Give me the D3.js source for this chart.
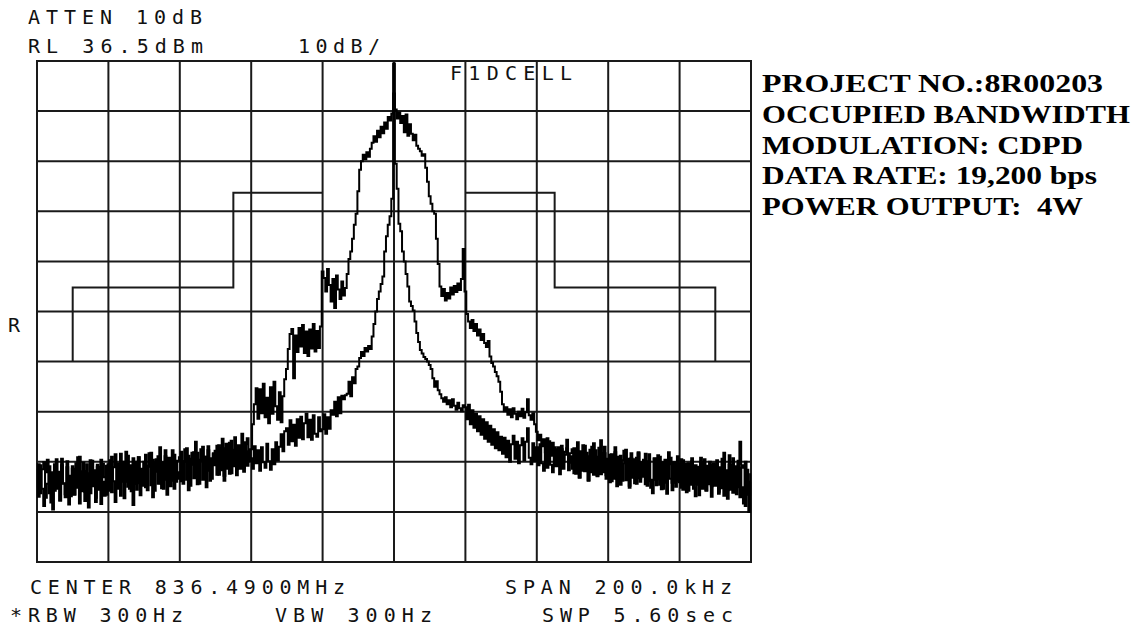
<!DOCTYPE html>
<html>
<head>
<meta charset="utf-8">
<script src="https://cdn.jsdelivr.net/npm/d3@7"></script>
<style>
  body { margin: 0; background: #fff; }
  svg { display: block; }
  .mono { font-family: "DejaVu Sans Mono", monospace; font-size: 20px; fill: #111; }
  .note { font-family: "Liberation Serif", "Times New Roman", serif; font-weight: bold; font-size: 26px; fill: #000; white-space: pre; }
</style>
</head>
<body>
<div id="chart"></div>
<script>
// sweep settings, offsets in kHz from the centre frequency
const traceStartKHz = -100;
const traceStepKHz = 0.5;

// modulated trace (dBm), one value per 0.5 kHz, 20 values = 10 kHz per row
const wideTrace = [
  -45.0,-50.5,-44.2,-48.9,-52.3,-45.6,-43.1,-49.8,-46.4,-53.0,-44.0,-48.7,-45.5,-51.2,-42.9,-47.9,-50.6,-44.6,-52.0,-46.3,
  -44.4,-50.0,-47.1,-42.6,-51.8,-46.9,-43.7,-49.5,-45.8,-52.6,-43.2,-48.4,-45.2,-50.7,-44.1,-47.6,-51.9,-43.9,-46.6,-50.1,
  -44.0,-49.3,-42.5,-47.4,-51.5,-43.8,-48.6,-41.9,-46.9,-50.8,-44.7,-42.3,-48.9,-45.6,-52.1,-43.5,-47.8,-42.6,-50.2,-44.9,
  -46.8,-42.1,-49.2,-44.5,-41.7,-50.6,-45.5,-43.0,-47.9,-40.6,-48.8,-44.7,-42.4,-50.1,-43.9,-47.3,-41.2,-48.9,-43.6,-46.9,
  -45.6,-41.5,-47.9,-43.4,-40.8,-49.2,-44.1,-41.7,-46.8,-39.5,-48.0,-43.2,-41.0,-47.1,-42.5,-48.6,-40.4,-45.3,-46.9,-41.8,
  -44.2,-40.3,-46.1,-42.0,-38.9,-47.3,-41.6,-44.9,-39.7,-45.8,-41.4,-38.6,-45.0,-40.2,-43.6,-37.9,-44.8,-40.0,-38.8,-43.4,
  -41.0,-36.0,-32.0,-28.8,-34.9,-29.0,-33.8,-27.9,-34.6,-30.7,-35.8,-28.6,-33.9,-27.5,-32.4,-35.1,-29.6,-35.6,-30.4,-27.0,
  -25.0,-21.0,-18.0,-17.0,-26.8,-18.3,-21.6,-16.8,-20.5,-16.2,-21.8,-17.5,-22.4,-17.1,-20.9,-16.0,-21.5,-17.4,-20.8,-16.5,
  -5.5,-6.8,-9.5,-5.0,-8.2,-11.5,-7.0,-12.8,-6.3,-9.1,-11.0,-7.5,-10.3,-8.8,-6.0,-3.0,-1.5,1.0,3.8,6.0,
  10.5,14.8,16.5,17.8,16.9,18.3,17.4,19.0,20.2,21.5,20.4,22.6,21.3,23.4,22.1,24.2,23.0,25.3,24.6,26.0,
  30.0,26.8,25.0,26.2,24.1,25.5,22.3,25.8,21.6,23.9,22.0,20.7,21.8,19.6,19.0,18.5,17.6,17.9,15.2,12.4,
  9.5,8.0,6.5,6.0,1.0,-4.0,-8.5,-10.4,-9.0,-11.3,-9.8,-10.9,-8.7,-10.1,-8.4,-9.6,-7.9,-9.2,-7.0,-1.0,
  -9.5,-14.0,-15.5,-16.8,-15.2,-17.4,-16.0,-18.3,-17.1,-19.2,-18.0,-19.8,-20.6,-19.4,-22.5,-23.8,-24.5,-25.6,-26.4,-27.5,
  -29.5,-32.0,-33.4,-32.6,-34.1,-33.0,-34.6,-32.8,-33.9,-35.0,-33.5,-34.4,-32.9,-34.7,-33.6,-31.0,-34.2,-35.1,-33.8,-36.0,
  -37.5,-39.2,-38.1,-40.4,-39.0,-41.6,-38.8,-40.9,-42.3,-39.7,-41.5,-43.0,-40.6,-42.2,-41.0,-43.5,-42.1,-40.8,-43.7,-42.4,
  -44.9,-40.8,-45.9,-41.5,-46.6,-42.0,-40.2,-45.4,-41.7,-47.3,-42.4,-40.5,-46.1,-41.2,-46.4,-42.5,-39.2,-45.6,-41.8,-46.9,
  -42.9,-47.6,-42.0,-46.9,-41.6,-48.4,-43.5,-42.3,-47.3,-43.8,-41.1,-47.0,-48.7,-42.8,-46.4,-43.0,-47.9,-41.8,-46.8,-43.6,
  -46.5,-41.9,-48.3,-43.4,-47.4,-49.8,-42.8,-47.0,-42.2,-48.1,-44.0,-48.9,-43.1,-47.7,-41.6,-46.9,-49.2,-43.6,-47.3,-44.0,
  -47.6,-43.0,-49.1,-44.3,-49.6,-43.8,-48.1,-43.4,-48.6,-50.4,-44.5,-47.8,-42.7,-48.9,-44.6,-49.3,-45.0,-43.5,-48.4,-44.1,
  -48.0,-43.2,-49.5,-44.6,-48.8,-41.7,-47.6,-50.9,-44.1,-49.1,-42.8,-48.2,-50.0,-43.9,-39.5,-48.6,-51.8,-43.5,-48.3,-53.5,
  -46.0
];

// carrier trace (dBm), same grid
const narrowTrace = [
  -48.7,-44.0,-49.8,-45.0,-43.6,-50.7,-47.9,-44.4,-51.6,-45.6,-49.3,-43.0,-48.9,-51.2,-44.2,-47.8,-50.0,-43.4,-48.4,-50.4,
  -44.9,-50.1,-43.8,-48.7,-42.5,-49.4,-45.4,-51.3,-44.0,-48.2,-49.8,-43.3,-47.9,-51.5,-44.5,-49.1,-43.1,-47.5,-50.3,-44.3,
  -47.9,-43.2,-49.6,-44.6,-42.0,-48.9,-44.8,-50.3,-43.5,-47.5,-41.5,-48.5,-44.2,-49.4,-42.8,-47.9,-49.1,-42.6,-46.9,-48.3,
  -43.5,-48.6,-44.3,-41.8,-48.2,-43.1,-49.3,-43.8,-42.4,-47.8,-43.6,-48.9,-41.2,-47.1,-42.7,-48.4,-44.0,-42.1,-47.5,-43.3,
  -42.6,-47.4,-43.4,-41.0,-47.1,-42.3,-48.3,-42.9,-41.6,-46.7,-41.7,-47.9,-43.1,-40.5,-46.5,-42.5,-41.2,-47.3,-42.8,-42.0,
  -41.3,-46.1,-40.2,-45.2,-40.8,-46.3,-39.9,-44.7,-45.9,-39.3,-44.4,-41.1,-46.2,-40.5,-44.9,-40.7,-45.5,-39.6,-44.3,-41.4,
  -42.8,-44.9,-40.4,-43.8,-41.2,-45.3,-40.6,-43.6,-44.7,-39.9,-43.4,-45.1,-41.0,-44.0,-39.6,-43.2,-40.5,-38.0,-41.4,-37.4,
  -36.8,-40.1,-35.2,-39.4,-36.1,-40.3,-35.0,-38.7,-34.5,-39.0,-35.8,-33.9,-38.6,-35.1,-39.1,-34.2,-37.9,-38.5,-34.6,-37.4,
  -37.0,-34.0,-37.9,-34.6,-36.9,-33.2,-34.1,-31.5,-34.4,-30.6,-33.8,-30.3,-31.0,-30.2,-29.9,-27.5,-30.4,-26.6,-27.8,-25.0,
  -24.5,-22.8,-21.6,-22.4,-20.8,-21.5,-20.4,-21.0,-18.5,-16.0,-13.5,-11.0,-9.5,-8.0,-6.5,-1.5,1.5,3.8,5.5,9.0,
  36.0,16.0,11.0,4.0,2.5,-1.5,-3.5,-6.0,-8.5,-11.5,-12.4,-13.3,-15.5,-17.8,-19.6,-21.2,-21.9,-22.6,-23.0,-23.5,
  -24.2,-25.0,-26.8,-28.5,-27.4,-29.2,-30.0,-30.8,-31.5,-30.6,-32.0,-31.2,-32.6,-31.0,-32.3,-33.1,-31.7,-32.8,-33.4,-32.2,
  -32.6,-35.0,-32.1,-36.0,-33.2,-36.7,-33.9,-37.4,-34.4,-38.1,-35.0,-38.9,-35.6,-39.5,-36.3,-40.1,-37.0,-40.8,-37.6,-41.2,
  -38.5,-41.9,-38.7,-42.6,-39.3,-43.5,-40.0,-38.3,-42.9,-39.5,-43.8,-40.2,-38.8,-43.2,-39.5,-36.8,-42.7,-44.0,-39.8,-43.4,
  -40.6,-44.2,-40.0,-43.8,-45.3,-40.8,-44.7,-39.4,-44.1,-45.6,-40.6,-44.4,-41.0,-46.0,-40.3,-44.9,-41.5,-39.1,-45.2,-41.8,
  -41.0,-45.8,-44.4,-39.6,-46.7,-41.4,-45.3,-40.3,-45.1,-47.2,-41.1,-45.6,-39.8,-44.9,-46.3,-40.7,-46.0,-44.6,-40.5,-46.2,
  -46.5,-42.1,-47.4,-42.7,-40.6,-46.9,-42.5,-48.1,-43.2,-41.3,-47.2,-42.9,-48.3,-41.8,-46.7,-47.8,-42.7,-41.6,-47.5,-43.7,
  -43.1,-48.0,-46.3,-42.0,-48.7,-47.1,-42.9,-48.2,-46.7,-42.5,-49.0,-43.6,-47.4,-49.9,-44.0,-42.7,-47.7,-43.7,-48.5,-42.4,
  -44.5,-48.7,-43.2,-48.2,-43.9,-49.3,-47.6,-42.8,-48.9,-44.2,-48.1,-50.2,-43.7,-47.7,-43.0,-49.2,-44.3,-48.0,-50.5,-43.8,
  -48.3,-44.0,-49.9,-44.8,-42.9,-50.3,-45.2,-49.2,-42.2,-48.1,-49.7,-44.4,-48.6,-43.3,-50.6,-44.7,-44.2,-52.3,-45.1,-50.1,
  -47.5
];

// emission mask, left half (right half is mirrored)
const maskFreqKHz = [-90, -90, -45, -45, -20];
const maskLevelDBm = [-23.5, -8.7, -8.7, 10.2, 10.2];

const refLevel = 36.5;
const dbPerDiv = 10;
const divisions = 10;

const headerLines = ["ATTEN 10dB", "RL 36.5dBm", "10dB/"];
const footerLines = ["CENTER 836.4900MHz", "SPAN 200.0kHz", "*RBW 300Hz", "VBW 300Hz", "SWP 5.60sec"];
const notes = ["PROJECT NO.:8R00203", "OCCUPIED BANDWIDTH", "MODULATION: CDPD", "DATA RATE: 19,200 bps", "POWER OUTPUT:  4W"];

const width = 1144;
const height = 629;
const plot = { left: 37, right: 751, top: 61, bottom: 562 };

const svg = d3.select("#chart")
  .append("svg")
  .attr("width", width)
  .attr("height", height);

svg.append("rect").attr("width", width).attr("height", height).attr("fill", "#fff");

const x = d3.scaleLinear()
  .domain([-100, 100])
  .range([plot.left, plot.right]);

const y = d3.scaleLinear()
  .domain([refLevel - dbPerDiv * divisions, refLevel])
  .range([plot.bottom, plot.top]);

// graticule
const grid = svg.append("g").attr("stroke", "#1a1a1a").attr("stroke-width", 2);
d3.range(0, divisions + 1).forEach(i => {
  const f = -100 + i * 20;
  grid.append("line")
    .attr("x1", x(f)).attr("x2", x(f))
    .attr("y1", plot.top).attr("y2", plot.bottom);
  const lv = refLevel - i * dbPerDiv;
  grid.append("line")
    .attr("x1", plot.left - 1).attr("x2", plot.right + 1)
    .attr("y1", y(lv)).attr("y2", y(lv));
});

// mask
const maskLeft = maskFreqKHz.map((f, i) => ({ f: f, v: maskLevelDBm[i] }));
const maskRight = maskLeft.map(d => ({ f: -d.f, v: d.v }));
const maskLine = d3.line().x(d => x(d.f)).y(d => y(d.v));
[maskLeft, maskRight].forEach(m => {
  svg.append("path")
    .datum(m)
    .attr("fill", "none")
    .attr("stroke", "#1a1a1a")
    .attr("stroke-width", 2)
    .attr("d", maskLine);
});

// traces
const toPoints = arr => arr.map((v, i) => ({ f: traceStartKHz + i * traceStepKHz, v: v }));
const traceLine = d3.line()
  .x(d => x(d.f))
  .y(d => y(d.v))
  .curve(d3.curveStep);

[wideTrace, narrowTrace].forEach(t => {
  svg.append("path")
    .datum(toPoints(t))
    .attr("fill", "none")
    .attr("stroke", "#000")
    .attr("stroke-width", 2)
    .attr("stroke-linejoin", "miter")
    .attr("d", traceLine);
});

// instrument text
function mono(txt, x0, base, len) {
  svg.append("text")
    .attr("class", "mono")
    .attr("x", x0)
    .attr("y", base)
    .attr("textLength", len)
    .attr("lengthAdjust", "spacing")
    .text(txt);
}
mono(headerLines[0], 28, 24, 174);
mono(headerLines[1], 28, 53, 175);
mono(headerLines[2], 298, 53, 82);
mono("F1DCELL", 450, 80, 122);
mono("R", 8, 332, 12);
mono(footerLines[0], 30, 594, 315);
mono(footerLines[1], 505, 594, 227);
mono(footerLines[2], 10, 622, 173);
mono(footerLines[3], 275, 622, 157);
mono(footerLines[4], 542, 622, 191);

// right-hand notes
const noteRight = [1103, 1130, 1083, 1097, 1083];
notes.forEach((n, i) => {
  svg.append("text")
    .attr("class", "note")
    .attr("x", 762)
    .attr("y", 92 + i * 30.8)
    .attr("textLength", noteRight[i] - 762)
    .attr("lengthAdjust", "spacingAndGlyphs")
    .text(n);
});
</script>
</body>
</html>
